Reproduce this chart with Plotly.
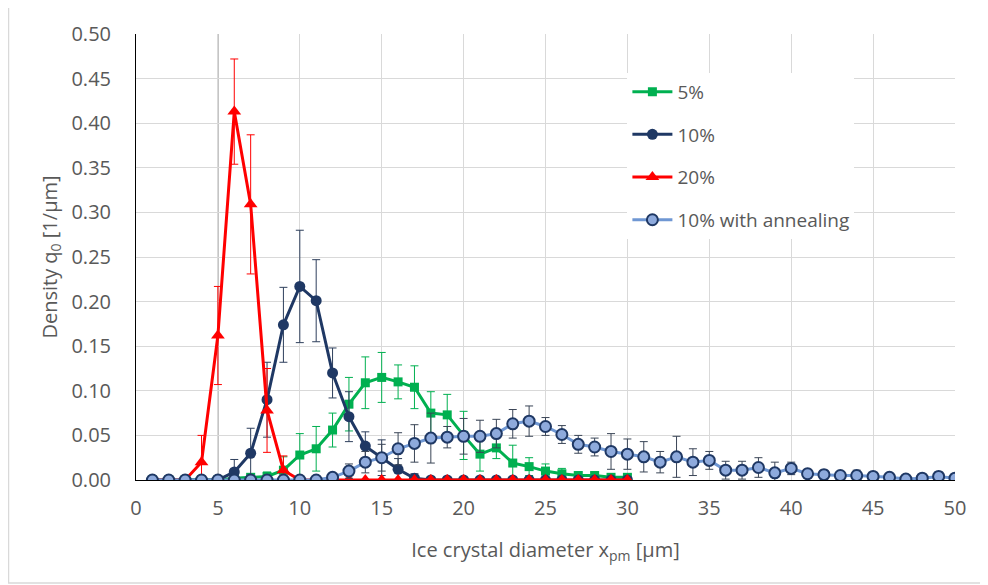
import plotly.graph_objects as go

x30 = list(range(1, 31))
x50 = list(range(1, 51))

green_y = [0, 0, 0, 0, 0, 0.002, 0.003, 0.004, 0.011, 0.028, 0.035, 0.056, 0.085, 0.109, 0.115,
           0.110, 0.104, 0.075, 0.073, 0.050, 0.029, 0.036, 0.019, 0.015, 0.010, 0.007, 0.005, 0.005, 0.003, 0.003]
green_err = [0, 0, 0, 0, 0, 0, 0.003, 0.005, 0.015, 0.024, 0.025, 0.019, 0.030, 0.029, 0.028,
             0.019, 0.024, 0.024, 0.023, 0.027, 0.019, 0.012, 0.020, 0.010, 0.008, 0.006, 0.004, 0.004, 0.003, 0.003]

dark_y = [0, 0, 0, 0, 0, 0.009, 0.030, 0.090, 0.174, 0.217, 0.201, 0.120, 0.071, 0.038, 0.025,
          0.012, 0.002, 0, 0, 0, 0, 0, 0, 0, 0, 0, 0, 0, 0, 0]
dark_err = [0, 0, 0, 0, 0, 0.014, 0.028, 0.042, 0.042, 0.063, 0.046, 0.028, 0.028, 0.016, 0.020,
            0.012, 0.005, 0, 0, 0, 0, 0, 0, 0, 0, 0, 0, 0, 0, 0]

red_y = [0, 0, 0, 0.020, 0.162, 0.413, 0.309, 0.078, 0.011, 0, 0, 0, 0, 0, 0,
         0, 0, 0, 0, 0, 0, 0, 0, 0, 0, 0, 0, 0, 0, 0]
red_err = [0, 0, 0, 0.030, 0.055, 0.059, 0.078, 0.047, 0.016, 0, 0, 0, 0, 0, 0,
           0, 0, 0, 0, 0, 0, 0, 0, 0, 0, 0, 0, 0, 0, 0]

ann_y = [0, 0, 0, 0, 0, 0, 0, 0, 0, 0, 0, 0.003, 0.010, 0.020, 0.025,
         0.035, 0.041, 0.047, 0.048, 0.049, 0.049, 0.052, 0.063, 0.066, 0.060,
         0.051, 0.040, 0.037, 0.032, 0.029, 0.026, 0.020, 0.026, 0.020, 0.022,
         0.011, 0.011, 0.014, 0.008, 0.013, 0.007, 0.006, 0.005, 0.005, 0.004,
         0.003, 0.001, 0.002, 0.004, 0.002]
ann_err = [0, 0, 0, 0, 0, 0, 0, 0, 0, 0, 0, 0.003, 0.008, 0.012, 0.015,
           0.018, 0.021, 0.028, 0.012, 0.020, 0.018, 0.016, 0.016, 0.017, 0.010,
           0.010, 0.010, 0.010, 0.020, 0.017, 0.017, 0.012, 0.023, 0.015, 0.010,
           0.010, 0.010, 0.011, 0.012, 0.007, 0.005, 0.005, 0.004, 0.006, 0.003,
           0.002, 0.002, 0.003, 0.005, 0.002]

series_names = ["5%", "10%", "20%", "10% with annealing"]

fig = go.Figure()

def eb(arr, color):
    return dict(type="data", array=arr, visible=True, color=color, thickness=1, width=4)

fig.add_trace(go.Scatter(x=x30, y=green_y, name=series_names[0], mode="lines+markers",
                         line=dict(color="#00b050", width=3),
                         marker=dict(symbol="square", size=9, color="#00b050"),
                         error_y=eb(green_err, "#00b050"), legendgroup="a"))
fig.add_trace(go.Scatter(x=x30, y=dark_y, name=series_names[1], mode="lines+markers",
                         line=dict(color="#1f3864", width=3),
                         marker=dict(symbol="circle", size=11, color="#1f3864"),
                         error_y=eb(dark_err, "#2e3f5c"), legendgroup="b"))
fig.add_trace(go.Scatter(x=x30, y=red_y, name=series_names[2], mode="lines+markers",
                         line=dict(color="#ff0000", width=3),
                         marker=dict(symbol="triangle-up", size=12, color="#ff0000"),
                         error_y=eb(red_err, "#ff0000"), legendgroup="c"))
fig.add_trace(go.Scatter(x=x50, y=ann_y, name=series_names[3], mode="lines+markers",
                         line=dict(color="#6f97d3", width=3),
                         marker=dict(symbol="circle", size=11, color="#8eaadc",
                                     line=dict(color="#1f3864", width=2)),
                         error_y=eb(ann_err, "#3a4556"), legendgroup="d"))

fig.add_vline(x=5, line=dict(color="#a6a6a6", width=1.5), layer="below")

# outer chart frame
fig.add_shape(type="rect", xref="paper", yref="paper", x0=-0.1557, x1=1.2, y0=-0.2312, y1=1.0703,
              line=dict(color="#d9d9d9", width=1.5), fillcolor="rgba(0,0,0,0)", layer="below")

font_family = "Open Sans, Noto Sans, sans-serif"
tick_color = "#595959"

fig.update_layout(
    width=980, height=577,
    margin=dict(l=128, r=33, t=24, b=105),
    plot_bgcolor="white", paper_bgcolor="white",
    font=dict(family=font_family, color=tick_color, size=18),
    showlegend=True,
    legend=dict(x=0.6, y=0.913, xanchor="left", yanchor="top",
                bgcolor="white", font=dict(size=19, color=tick_color),
                tracegroupgap=15, itemwidth=40),
    xaxis=dict(range=[0, 50], dtick=5, tick0=0, showgrid=True, gridcolor="#d9d9d9", gridwidth=1,
               showline=True, linecolor="#000000", linewidth=1, zeroline=False,
               ticks="outside", ticklen=10, tickcolor="rgba(0,0,0,0)",
               tickfont=dict(size=20, color=tick_color),
               title=dict(text="Ice crystal diameter x<sub>pm</sub> [µm]", font=dict(size=20, color=tick_color),
                          standoff=22)),
    yaxis=dict(range=[0, 0.5], dtick=0.05, tick0=0, tickformat=".2f", showgrid=True,
               gridcolor="#d9d9d9", gridwidth=1, showline=True, linecolor="#000000", linewidth=1,
               zeroline=False, ticks="outside", ticklen=20, tickcolor="rgba(0,0,0,0)",
               tickfont=dict(size=20, color=tick_color),
               title=dict(text="Density q<sub>0</sub> [1/µm]", font=dict(size=20, color=tick_color),
                          standoff=8)),
)

fig.write_html("out.html")
